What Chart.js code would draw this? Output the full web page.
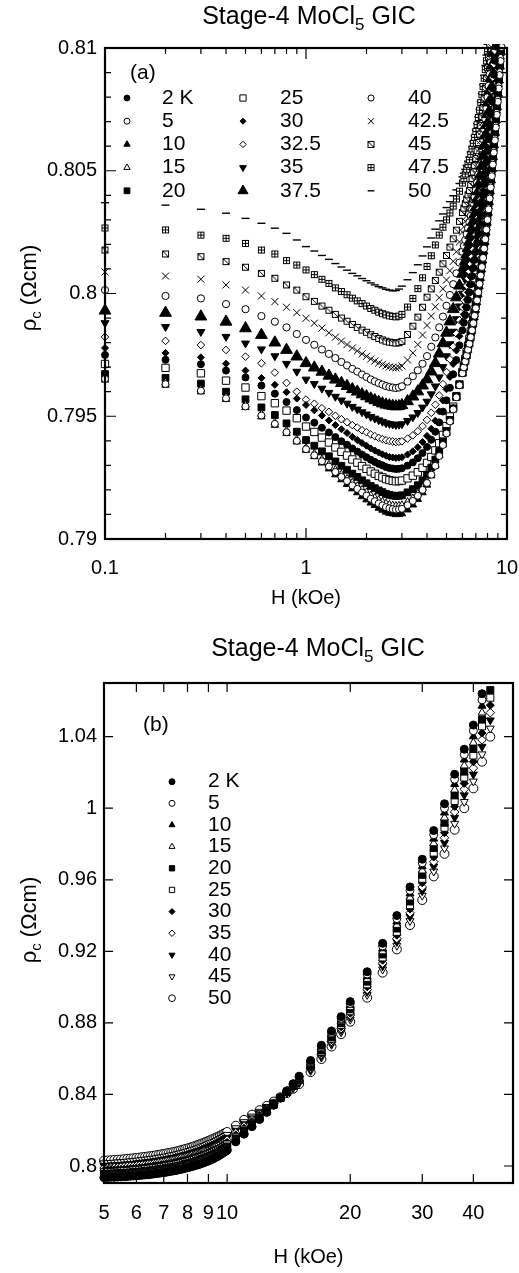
<!DOCTYPE html>
<html>
<head>
<meta charset="utf-8">
<script src="https://cdn.jsdelivr.net/npm/chart.js@4.4.1/dist/chart.umd.min.js"></script>
<style>
  body { margin: 0; background: #fff; }
  canvas { position: absolute; left: 0; }
</style>
</head>
<body>
<canvas id="chartA" width="519" height="620" style="top:0;width:519px;height:620px"></canvas>
<canvas id="chartB" width="519" height="653" style="top:620px;width:519px;height:653px"></canvas>
<script>
// ---- panel (a): rho_c vs H, 0.1 - 10 kOe ----
const topH = [0.1,0.2,0.3,0.4,0.5,0.6,0.7,0.8,0.9,1.0,
  1.1,1.2,1.3,1.4,1.5,1.6,1.7,1.8,1.9,2.0,2.1,2.2,2.3,2.4,2.5,2.6,2.7,2.8,2.9,3.0,
  3.2,3.4,3.6,3.8,4.0,4.2,4.4,4.6,4.8,5.0,5.2,5.4,5.6,5.8,6.0,
  6.1,6.2,6.3,6.4,6.5,6.6,6.7,6.8,6.9,7.0,7.1,7.2,7.3,7.4,7.5,7.6,7.7,7.8,7.9,8.0,
  8.1,8.2,8.3,8.4,8.5,8.6,8.7,8.8,8.9,9.0,9.1,9.2,9.3,9.4,9.5,9.6];
const topLabels = ['2 K','5','10','15','20','25','30','32.5','35','37.5','40','42.5','45','47.5','50'];

const top2K = [0.79750,0.79730,0.79712,0.79686,0.79658,0.79625,0.79592,0.79558,0.79525,0.79495,
  0.79474,0.79453,0.79434,0.79415,0.79398,0.79384,0.79369,0.79356,0.79344,0.79333,0.79323,0.79314,0.79306,0.79300,0.79293,0.79289,0.79287,0.79285,0.79286,0.79288,
  0.79299,0.79312,0.79329,0.79350,0.79375,0.79404,0.79437,0.79475,0.79519,0.79565,0.79616,0.79671,0.79729,0.79789,0.79850,
  0.79881,0.79912,0.79943,0.79974,0.80005,0.80038,0.80071,0.80104,0.80137,0.80170,0.80207,0.80244,0.80282,0.80321,0.80360,0.80402,0.80446,0.80490,0.80535,0.80580,
  0.80629,0.80679,0.80730,0.80782,0.80835,0.80891,0.80948,0.81006];
const top5K = [0.79652,0.79631,0.79604,0.79573,0.79540,0.79503,0.79469,0.79435,0.79400,0.79366,
  0.79341,0.79317,0.79295,0.79273,0.79253,0.79236,0.79218,0.79204,0.79189,0.79177,0.79164,0.79154,0.79145,0.79137,0.79130,0.79125,0.79122,0.79120,0.79121,0.79123,
  0.79138,0.79155,0.79176,0.79200,0.79228,0.79262,0.79298,0.79338,0.79383,0.79430,0.79479,0.79528,0.79577,0.79626,0.79675,
  0.79699,0.79723,0.79747,0.79771,0.79795,0.79822,0.79850,0.79879,0.79909,0.79940,0.79972,0.80005,0.80039,0.80073,0.80108,0.80145,0.80183,0.80221,0.80260,0.80300,
  0.80343,0.80387,0.80432,0.80478,0.80525,0.80574,0.80624,0.80676,0.80728,0.80781,0.80835,0.80890,0.80947,0.81004];
const top10K = [0.79648,0.79627,0.79600,0.79569,0.79536,0.79498,0.79464,0.79430,0.79396,0.79362,
  0.79336,0.79310,0.79286,0.79262,0.79242,0.79223,0.79205,0.79189,0.79173,0.79160,0.79147,0.79137,0.79126,0.79118,0.79110,0.79105,0.79103,0.79100,0.79101,0.79103,
  0.79119,0.79139,0.79162,0.79189,0.79220,0.79258,0.79298,0.79342,0.79388,0.79435,0.79483,0.79531,0.79579,0.79627,0.79675,
  0.79698,0.79721,0.79744,0.79768,0.79792,0.79818,0.79845,0.79873,0.79902,0.79932,0.79963,0.79995,0.80028,0.80062,0.80097,0.80133,0.80170,0.80208,0.80247,0.80287,
  0.80328,0.80371,0.80415,0.80460,0.80506,0.80554,0.80603,0.80653,0.80705,0.80758,0.80812,0.80867,0.80924,0.80982,0.81041];
const top15K = [0.79657,0.79637,0.79610,0.79579,0.79546,0.79509,0.79475,0.79441,0.79406,0.79372,
  0.79348,0.79325,0.79303,0.79282,0.79263,0.79246,0.79230,0.79216,0.79201,0.79190,0.79178,0.79168,0.79159,0.79152,0.79145,0.79140,0.79137,0.79135,0.79136,0.79138,
  0.79151,0.79166,0.79185,0.79208,0.79235,0.79267,0.79302,0.79340,0.79384,0.79430,0.79478,0.79526,0.79574,0.79623,0.79672,
  0.79697,0.79722,0.79747,0.79772,0.79797,0.79825,0.79854,0.79883,0.79913,0.79945,0.79978,0.80011,0.80045,0.80080,0.80115,0.80152,0.80190,0.80229,0.80268,0.80310,
  0.80353,0.80398,0.80444,0.80491,0.80538,0.80588,0.80639,0.80691,0.80744,0.80797,0.80852,0.80908,0.80965,0.81023];
const top20K = [0.79672,0.79656,0.79633,0.79600,0.79569,0.79536,0.79505,0.79471,0.79437,0.79403,
  0.79380,0.79357,0.79337,0.79316,0.79298,0.79282,0.79266,0.79253,0.79239,0.79227,0.79216,0.79207,0.79198,0.79191,0.79184,0.79180,0.79177,0.79175,0.79176,0.79178,
  0.79190,0.79203,0.79219,0.79239,0.79262,0.79291,0.79323,0.79358,0.79398,0.79440,0.79485,0.79532,0.79579,0.79627,0.79676,
  0.79702,0.79728,0.79754,0.79780,0.79806,0.79835,0.79864,0.79894,0.79924,0.79955,0.79989,0.80023,0.80057,0.80091,0.80125,0.80163,0.80202,0.80241,0.80280,0.80320,
  0.80365,0.80411,0.80457,0.80503,0.80550,0.80601,0.80652,0.80704,0.80757,0.80810,0.80867,0.80924,0.80982,0.81041];
const top25K = [0.79713,0.79697,0.79675,0.79645,0.79617,0.79582,0.79553,0.79523,0.79492,0.79458,
  0.79436,0.79413,0.79393,0.79373,0.79355,0.79340,0.79324,0.79311,0.79297,0.79286,0.79275,0.79266,0.79257,0.79251,0.79244,0.79240,0.79237,0.79235,0.79236,0.79238,
  0.79247,0.79258,0.79272,0.79290,0.79310,0.79334,0.79361,0.79390,0.79424,0.79460,0.79499,0.79539,0.79582,0.79630,0.79680,
  0.79707,0.79734,0.79761,0.79788,0.79815,0.79845,0.79875,0.79905,0.79935,0.79965,0.79999,0.80033,0.80067,0.80101,0.80135,0.80173,0.80212,0.80251,0.80290,0.80330,
  0.80375,0.80421,0.80467,0.80513,0.80560,0.80611,0.80662,0.80714,0.80767,0.80820,0.80877,0.80934,0.80992,0.81051];
const top30K = [0.79778,0.79758,0.79740,0.79714,0.79686,0.79656,0.79628,0.79598,0.79572,0.79546,
  0.79524,0.79503,0.79483,0.79464,0.79447,0.79432,0.79416,0.79403,0.79391,0.79380,0.79369,0.79360,0.79352,0.79345,0.79339,0.79334,0.79332,0.79330,0.79331,0.79333,
  0.79344,0.79357,0.79374,0.79395,0.79420,0.79449,0.79482,0.79520,0.79564,0.79610,0.79660,0.79713,0.79768,0.79826,0.79885,
  0.79915,0.79945,0.79975,0.80005,0.80035,0.80067,0.80099,0.80131,0.80163,0.80195,0.80231,0.80268,0.80305,0.80342,0.80380,0.80421,0.80463,0.80506,0.80550,0.80595,
  0.80643,0.80692,0.80742,0.80793,0.80845,0.80900,0.80956,0.81013];
const top32K = [0.79823,0.79807,0.79790,0.79770,0.79743,0.79716,0.79678,0.79636,0.79600,0.79568,
  0.79551,0.79533,0.79518,0.79502,0.79488,0.79476,0.79464,0.79454,0.79443,0.79435,0.79426,0.79419,0.79412,0.79407,0.79402,0.79399,0.79397,0.79395,0.79396,0.79398,
  0.79409,0.79422,0.79439,0.79460,0.79485,0.79514,0.79547,0.79585,0.79631,0.79680,0.79732,0.79784,0.79837,0.79891,0.79945,
  0.79974,0.80003,0.80032,0.80061,0.80090,0.80120,0.80150,0.80180,0.80210,0.80240,0.80275,0.80310,0.80346,0.80383,0.80420,0.80460,0.80501,0.80543,0.80586,0.80630,
  0.80677,0.80726,0.80776,0.80827,0.80880,0.80934,0.80989,0.81045];
const top35K = [0.79880,0.79864,0.79844,0.79824,0.79797,0.79773,0.79745,0.79714,0.79682,0.79650,
  0.79632,0.79613,0.79596,0.79580,0.79565,0.79552,0.79539,0.79528,0.79517,0.79508,0.79498,0.79491,0.79484,0.79478,0.79472,0.79469,0.79467,0.79465,0.79466,0.79468,
  0.79481,0.79496,0.79514,0.79536,0.79560,0.79590,0.79622,0.79659,0.79701,0.79745,0.79794,0.79845,0.79896,0.79948,0.80000,
  0.80028,0.80056,0.80084,0.80112,0.80140,0.80170,0.80200,0.80230,0.80260,0.80290,0.80324,0.80358,0.80393,0.80429,0.80465,0.80504,0.80544,0.80585,0.80627,0.80670,
  0.80717,0.80765,0.80815,0.80867,0.80920,0.80975,0.81031];
const top37K = [0.79930,0.79921,0.79906,0.79885,0.79858,0.79831,0.79800,0.79770,0.79743,0.79716,
  0.79698,0.79681,0.79665,0.79649,0.79635,0.79623,0.79610,0.79600,0.79589,0.79581,0.79572,0.79565,0.79558,0.79552,0.79547,0.79544,0.79542,0.79540,0.79541,0.79545,
  0.79561,0.79580,0.79601,0.79625,0.79650,0.79682,0.79716,0.79755,0.79797,0.79840,0.79886,0.79936,0.79984,0.80032,0.80080,
  0.80106,0.80132,0.80158,0.80184,0.80210,0.80238,0.80266,0.80294,0.80322,0.80350,0.80383,0.80416,0.80450,0.80485,0.80520,0.80560,0.80601,0.80643,0.80686,0.80730,
  0.80778,0.80827,0.80877,0.80928,0.80980,0.81033];
const top40K = [0.80014,0.79990,0.79980,0.79957,0.79936,0.79908,0.79885,0.79862,0.79835,0.79811,
  0.79791,0.79772,0.79754,0.79737,0.79721,0.79707,0.79693,0.79682,0.79670,0.79660,0.79650,0.79642,0.79635,0.79629,0.79623,0.79619,0.79617,0.79615,0.79617,0.79622,
  0.79641,0.79663,0.79687,0.79714,0.79745,0.79783,0.79821,0.79862,0.79906,0.79950,0.79994,0.80038,0.80082,0.80126,0.80170,
  0.80194,0.80218,0.80242,0.80266,0.80290,0.80316,0.80342,0.80368,0.80394,0.80420,0.80452,0.80485,0.80519,0.80554,0.80590,0.80629,0.80670,0.80712,0.80755,0.80800,
  0.80846,0.80893,0.80941,0.80990,0.81040];
const top42K = [0.80088,0.80071,0.80058,0.80035,0.80014,0.79990,0.79967,0.79944,0.79922,0.79899,
  0.79879,0.79859,0.79840,0.79822,0.79806,0.79792,0.79778,0.79766,0.79754,0.79744,0.79733,0.79725,0.79717,0.79711,0.79705,0.79701,0.79699,0.79697,0.79699,0.79705,
  0.79729,0.79758,0.79792,0.79831,0.79870,0.79908,0.79946,0.79983,0.80019,0.80055,0.80093,0.80131,0.80170,0.80210,0.80250,
  0.80272,0.80294,0.80316,0.80338,0.80360,0.80385,0.80411,0.80437,0.80463,0.80490,0.80522,0.80555,0.80589,0.80624,0.80660,0.80698,0.80737,0.80777,0.80818,0.80860,
  0.80904,0.80949,0.80995,0.81042];
const top45K = [0.80177,0.80161,0.80150,0.80130,0.80107,0.80082,0.80062,0.80035,0.80014,0.79987,
  0.79968,0.79949,0.79932,0.79915,0.79900,0.79887,0.79874,0.79862,0.79851,0.79842,0.79832,0.79825,0.79817,0.79811,0.79806,0.79802,0.79800,0.79798,0.79800,0.79805,
  0.79833,0.79867,0.79904,0.79944,0.79985,0.80019,0.80053,0.80087,0.80121,0.80155,0.80189,0.80223,0.80258,0.80294,0.80330,
  0.80348,0.80366,0.80384,0.80402,0.80420,0.80444,0.80469,0.80495,0.80522,0.80550,0.80582,0.80615,0.80649,0.80684,0.80720,0.80758,0.80796,0.80836,0.80877,0.80920,
  0.80964,0.81010];
const top47K = [0.80267,0.80259,0.80238,0.80225,0.80204,0.80177,0.80161,0.80134,0.80116,0.80096,
  0.80077,0.80058,0.80041,0.80023,0.80008,0.79995,0.79981,0.79970,0.79959,0.79949,0.79939,0.79932,0.79924,0.79918,0.79913,0.79909,0.79907,0.79905,0.79908,0.79915,
  0.79945,0.79980,0.80020,0.80064,0.80110,0.80154,0.80198,0.80238,0.80270,0.80300,0.80328,0.80356,0.80385,0.80417,0.80450,
  0.80468,0.80487,0.80506,0.80525,0.80545,0.80567,0.80589,0.80612,0.80636,0.80660,0.80688,0.80717,0.80747,0.80778,0.80810,0.80843,0.80877,0.80912,0.80948,0.80985,
  0.81025];
const top50K = [0.80370,0.80360,0.80343,0.80327,0.80306,0.80286,0.80266,0.80245,0.80218,0.80191,
  0.80173,0.80155,0.80139,0.80122,0.80108,0.80095,0.80082,0.80072,0.80061,0.80052,0.80043,0.80035,0.80028,0.80023,0.80017,0.80014,0.80011,0.80012,0.80018,0.80030,
  0.80056,0.80085,0.80117,0.80153,0.80190,0.80226,0.80262,0.80296,0.80324,0.80350,0.80374,0.80398,0.80422,0.80448,0.80475,
  0.80490,0.80506,0.80522,0.80539,0.80556,0.80576,0.80597,0.80619,0.80642,0.80665,0.80692,0.80720,0.80750,0.80782,0.80815,0.80851,0.80889,0.80929,0.80971,0.81015];

const topXTicks = [0.1, 1, 10];
const topXTickLabels = ['0.1', '1', '10'];
const topXMinor = [0.2,0.3,0.4,0.5,0.6,0.7,0.8,0.9,2,3,4,5,6,7,8,9];
const topYTicks = [0.79, 0.795, 0.8, 0.805, 0.81];
const topYTickLabels = ['0.79', '0.795', '0.8', '0.805', '0.81'];
const topYMinor = [0.791,0.792,0.793,0.794,0.796,0.797,0.798,0.799,0.801,0.802,0.803,0.804,0.806,0.807,0.808,0.809];

// ---- panel (b): rho_c vs H, 5 - 45 kOe ----
const botH = [5.0,5.1,5.2,5.3,5.4,5.5,5.6,5.7,5.8,5.9,6.0,6.1,6.2,6.3,6.4,6.5,6.6,6.7,6.8,6.9,
  7.0,7.1,7.2,7.3,7.4,7.5,7.6,7.7,7.8,7.9,8.0,8.1,8.2,8.3,8.4,8.5,8.6,8.7,8.8,8.9,
  9.0,9.1,9.2,9.3,9.4,9.5,9.6,9.7,9.8,9.9,10.0,
  10.5,11,11.5,12,12.5,13,13.5,14,14.5,15,16,17,18,19,20,22,24,26,28,30,32,34,36,38,40,42,44];
const botLabels = ['2 K','5','10','15','20','25','30','35','40','45','50'];

const bot2K = [.7935,.7936,.7937,.7937,.7938,.7939,.7940,.7941,.7943,.7944,.7945,.7947,.7948,.7950,.7951,.7953,.7955,.7957,.7959,.7961,
  .7963,.7965,.7968,.7970,.7973,.7975,.7978,.7981,.7984,.7987,.7990,.7993,.7997,.8000,.8004,.8007,.8011,.8015,.8020,.8024,
  .8028,.8033,.8038,.8044,.8049,.8054,.8061,.8068,.8074,.8081,.8088,
  .8135,.8178,.8220,.8260,.8300,.8340,.8380,.8420,.8460,.8502,.8590,.8675,.8755,.8835,.8919,.9086,.9245,.9400,.9560,.9715,.9875,1.0025,1.0190,1.0330,1.0465,1.0640];
const bot5K = [.7938,.7939,.7940,.7940,.7941,.7942,.7943,.7944,.7946,.7947,.7948,.7950,.7951,.7953,.7954,.7956,.7958,.7960,.7962,.7964,
  .7966,.7969,.7971,.7973,.7976,.7978,.7981,.7984,.7987,.7990,.7993,.7997,.8000,.8003,.8007,.8010,.8014,.8019,.8023,.8027,
  .8031,.8037,.8042,.8047,.8052,.8057,.8064,.8071,.8078,.8084,.8091,
  .8138,.8180,.8222,.8262,.8301,.8341,.8380,.8419,.8458,.8498,.8584,.8668,.8747,.8826,.8909,.9073,.9230,.9383,.9541,.9695,.9852,1.0000,1.0162,1.0300,1.0433,1.0606];
const bot10K = [.7942,.7943,.7943,.7944,.7945,.7946,.7947,.7948,.7950,.7951,.7952,.7954,.7955,.7957,.7959,.7960,.7962,.7964,.7966,.7968,
  .7970,.7973,.7975,.7978,.7980,.7983,.7986,.7989,.7992,.7995,.7998,.8001,.8004,.8008,.8011,.8015,.8019,.8023,.8027,.8032,
  .8036,.8041,.8046,.8051,.8056,.8062,.8068,.8075,.8082,.8088,.8095,
  .8141,.8184,.8225,.8264,.8303,.8341,.8380,.8418,.8455,.8494,.8578,.8661,.8739,.8817,.8899,.9060,.9216,.9366,.9522,.9674,.9829,.9975,1.0134,1.0271,1.0401,1.0572];
const bot15K = [.7947,.7948,.7949,.7950,.7951,.7952,.7953,.7954,.7955,.7957,.7958,.7960,.7961,.7963,.7965,.7966,.7968,.7970,.7972,.7974,
  .7976,.7979,.7981,.7984,.7986,.7989,.7992,.7995,.7998,.8001,.8004,.8007,.8011,.8014,.8018,.8021,.8026,.8030,.8034,.8038,
  .8043,.8048,.8053,.8058,.8063,.8068,.8075,.8081,.8088,.8095,.8101,
  .8147,.8188,.8229,.8267,.8305,.8343,.8381,.8417,.8452,.8490,.8572,.8653,.8731,.8808,.8888,.9045,.9199,.9347,.9500,.9651,.9803,.9947,1.0103,1.0238,1.0366,1.0534];
const bot20K = [.7955,.7956,.7957,.7958,.7959,.7960,.7961,.7962,.7963,.7965,.7966,.7968,.7969,.7971,.7973,.7974,.7976,.7979,.7981,.7983,
  .7985,.7987,.7990,.7992,.7995,.7997,.8000,.8003,.8007,.8010,.8013,.8016,.8020,.8023,.8027,.8030,.8034,.8039,.8043,.8047,
  .8051,.8056,.8061,.8066,.8071,.8076,.8083,.8090,.8096,.8103,.8109,
  .8154,.8195,.8234,.8271,.8308,.8344,.8381,.8415,.8449,.8485,.8565,.8646,.8722,.8798,.8876,.9031,.9183,.9328,.9479,.9628,.9778,.9919,1.0072,1.0205,1.0331,1.0496,1.0660];
const bot25K = [.7964,.7965,.7966,.7967,.7968,.7969,.7971,.7972,.7973,.7975,.7976,.7978,.7979,.7981,.7983,.7985,.7987,.7989,.7991,.7993,
  .7995,.7998,.8000,.8003,.8005,.8008,.8011,.8014,.8017,.8020,.8023,.8027,.8030,.8034,.8038,.8041,.8045,.8050,.8054,.8058,
  .8063,.8068,.8072,.8077,.8082,.8087,.8094,.8100,.8107,.8113,.8120,
  .8163,.8203,.8241,.8276,.8311,.8346,.8381,.8414,.8447,.8481,.8559,.8638,.8713,.8788,.8865,.9016,.9166,.9309,.9458,.9606,.9752,.9891,1.0041,1.0172,1.0295,1.0458,1.0618];
const bot30K = [.7976,.7977,.7978,.7979,.7980,.7981,.7982,.7984,.7985,.7987,.7988,.7990,.7991,.7993,.7995,.7997,.7999,.8001,.8003,.8005,
  .8008,.8010,.8013,.8015,.8018,.8020,.8024,.8027,.8030,.8033,.8036,.8040,.8044,.8047,.8051,.8054,.8059,.8063,.8067,.8072,
  .8076,.8081,.8086,.8090,.8095,.8100,.8106,.8113,.8119,.8125,.8132,
  .8174,.8212,.8249,.8282,.8316,.8349,.8382,.8413,.8444,.8477,.8552,.8630,.8705,.8778,.8854,.9002,.9150,.9290,.9437,.9583,.9727,.9863,1.0010,1.0139,1.0260,1.0420,1.0576];
const bot35K = [.7988,.7989,.7990,.7991,.7992,.7994,.7995,.7997,.7998,.7999,.8001,.8003,.8005,.8006,.8008,.8010,.8012,.8014,.8017,.8019,
  .8021,.8024,.8026,.8029,.8032,.8034,.8038,.8041,.8044,.8047,.8050,.8054,.8058,.8061,.8065,.8069,.8073,.8077,.8082,.8086,
  .8091,.8095,.8100,.8105,.8109,.8114,.8120,.8126,.8133,.8139,.8145,
  .8185,.8223,.8258,.8289,.8320,.8351,.8382,.8412,.8441,.8472,.8546,.8623,.8696,.8768,.8843,.8987,.9134,.9272,.9415,.9560,.9701,.9835,.9979,1.0106,1.0224,1.0382,1.0534];
const bot40K = [.8001,.8003,.8004,.8005,.8006,.8007,.8009,.8010,.8012,.8013,.8015,.8017,.8019,.8021,.8022,.8024,.8027,.8029,.8031,.8033,
  .8036,.8038,.8041,.8044,.8046,.8049,.8052,.8056,.8059,.8062,.8066,.8069,.8073,.8077,.8080,.8084,.8088,.8093,.8097,.8102,
  .8106,.8111,.8115,.8120,.8124,.8129,.8135,.8141,.8147,.8153,.8159,
  .8198,.8234,.8267,.8296,.8325,.8354,.8383,.8411,.8438,.8468,.8539,.8615,.8687,.8759,.8832,.8973,.9117,.9253,.9394,.9537,.9675,.9807,.9948,1.0073,1.0189,1.0344,1.0492];
const bot45K = [.8016,.8017,.8018,.8019,.8021,.8022,.8023,.8025,.8027,.8028,.8030,.8032,.8034,.8036,.8038,.8040,.8042,.8044,.8047,.8049,
  .8051,.8054,.8057,.8060,.8062,.8065,.8068,.8072,.8075,.8078,.8082,.8085,.8089,.8093,.8097,.8100,.8105,.8110,.8114,.8119,
  .8123,.8128,.8132,.8136,.8141,.8145,.8151,.8157,.8163,.8169,.8175,
  .8212,.8246,.8277,.8304,.8331,.8357,.8383,.8409,.8435,.8463,.8532,.8607,.8678,.8748,.8819,.8957,.9099,.9232,.9370,.9512,.9647,.9776,.9914,1.0036,1.0150,1.0302,1.0446];
const bot50K = [.8030,.8031,.8032,.8034,.8035,.8036,.8038,.8040,.8041,.8043,.8045,.8047,.8049,.8051,.8053,.8055,.8057,.8060,.8062,.8065,
  .8067,.8070,.8073,.8075,.8078,.8081,.8084,.8088,.8091,.8095,.8098,.8102,.8106,.8110,.8114,.8118,.8122,.8127,.8131,.8136,
  .8140,.8145,.8150,.8154,.8159,.8164,.8169,.8174,.8180,.8185,.8190,
  .8225,.8258,.8287,.8312,.8336,.8360,.8384,.8408,.8432,.8458,.8525,.8598,.8668,.8737,.8807,.8941,.9081,.9211,.9347,.9487,.9619,.9745,.9880,1.0000,1.0111,1.0260,1.0400];

const botXTicks = [5, 6, 7, 8, 9, 10, 20, 30, 40];
const botXTickLabels = ['5', '6', '7', '8', '9', '10', '20', '30', '40'];
const botYTicks = [0.8, 0.84, 0.88, 0.92, 0.96, 1, 1.04];
const botYTickLabels = ['0.8', '0.84', '0.88', '0.92', '0.96', '1', '1.04'];

// ---------------------------------------------------------------
const FONT = '"Liberation Sans", Arial, Helvetica, sans-serif';
Chart.defaults.font.family = FONT;
Chart.defaults.color = '#000';

// square markers with a diagonal / a plus inside
function boxMarker(kind) {
  const c = document.createElement('canvas');
  c.width = 9; c.height = 9;
  const g = c.getContext('2d');
  g.fillStyle = '#fff';
  g.fillRect(1, 1, 7, 7);
  g.strokeStyle = '#000';
  g.lineWidth = 1;
  g.strokeRect(1.5, 1.5, 6, 6);
  g.beginPath();
  if (kind === 'diag') {
    g.moveTo(1.5, 1.5); g.lineTo(7.5, 7.5);
  } else {
    g.moveTo(4.5, 1.5); g.lineTo(4.5, 7.5);
    g.moveTo(1.5, 4.5); g.lineTo(7.5, 4.5);
  }
  g.stroke();
  return c;
}
const MARK_DIAG = boxMarker('diag');
const MARK_PLUS = boxMarker('plus');

const topStyles = [
  { ps: 'circle', r: 3.5, fill: true },
  { ps: 'circle', r: 3.5, fill: false },
  { ps: 'triangle', r: 4.3, fill: true },
  { ps: 'triangle', r: 4.3, fill: false },
  { ps: 'rect', r: 4.8, fill: true },
  { ps: 'rect', r: 5.2, fill: false },
  { ps: 'rectRot', r: 3.5, fill: true },
  { ps: 'rectRot', r: 3.8, fill: false },
  { ps: 'triangle', r: 4.6, rot: 180, fill: true },
  { ps: 'triangle', r: 6.8, fill: true },
  { ps: 'circle', r: 3.6, fill: false },
  { ps: 'crossRot', r: 5, fill: false },
  { ps: MARK_DIAG, r: 4, fill: false },
  { ps: MARK_PLUS, r: 4, fill: false },
  { ps: 'line', r: 4, fill: false, bw: 1.4 }
];
const botStyles = [
  { ps: 'circle', r: 4, fill: true },
  { ps: 'circle', r: 4, fill: false },
  { ps: 'triangle', r: 4.6, fill: true },
  { ps: 'triangle', r: 4.6, fill: false },
  { ps: 'rect', r: 5, fill: true },
  { ps: 'rect', r: 5, fill: false },
  { ps: 'rectRot', r: 4, fill: true },
  { ps: 'rectRot', r: 4.3, fill: false },
  { ps: 'triangle', r: 4.6, rot: 180, fill: true },
  { ps: 'triangle', r: 4.6, rot: 180, fill: false },
  { ps: 'circle', r: 4.5, fill: false }
];

function buildSets(H, series, labels, styles, clip) {
  return series.map((vals, i) => {
    const s = styles[i];
    return {
      label: labels[i],
      data: vals.map((v, k) => ({ x: H[k], y: v })),
      showLine: false,
      pointStyle: s.ps,
      pointRadius: s.r,
      pointHoverRadius: s.r,
      pointRotation: s.rot || 0,
      pointBackgroundColor: s.fill ? '#000' : '#fff',
      pointBorderColor: '#000',
      pointBorderWidth: s.bw || 1,
      clip: clip
    };
  });
}

// text made of normal and subscript pieces, centred on x
function drawParts(ctx, parts, x, y, size, subSize, drop) {
  let w = 0;
  parts.forEach(p => {
    ctx.font = (p[1] ? subSize : size) + 'px ' + FONT;
    p.w = ctx.measureText(p[0]).width;
    w += p.w;
  });
  let cx = x - w / 2;
  ctx.textAlign = 'left';
  ctx.textBaseline = 'alphabetic';
  parts.forEach(p => {
    ctx.font = (p[1] ? subSize : size) + 'px ' + FONT;
    ctx.fillText(p[0], cx, y + (p[1] ? drop : 0));
    cx += p.w;
  });
}

function makeDecor(p) {
  return {
    id: 'decor',
    afterDatasetsDraw(chart) {
      const { ctx, chartArea: a, scales: { x, y } } = chart;
      ctx.save();
      ctx.strokeStyle = '#000';
      ctx.lineWidth = 1.2;
      ctx.beginPath();
      const xt = (v, len) => {
        const q = x.getPixelForValue(v);
        ctx.moveTo(q, a.bottom); ctx.lineTo(q, a.bottom - len);
        ctx.moveTo(q, a.top); ctx.lineTo(q, a.top + len);
      };
      const yt = (v, len) => {
        const q = y.getPixelForValue(v);
        ctx.moveTo(a.left, q); ctx.lineTo(a.left + len, q);
        ctx.moveTo(a.right, q); ctx.lineTo(a.right - len, q);
      };
      p.xTicks.forEach(v => xt(v, p.tickMajor));
      p.xMinor.forEach(v => xt(v, p.tickMinor));
      p.yTicks.forEach(v => yt(v, p.tickMajor));
      p.yMinor.forEach(v => yt(v, p.tickMinor));
      ctx.stroke();
      ctx.lineWidth = 2.2;
      ctx.strokeRect(a.left, a.top, a.right - a.left, a.bottom - a.top);
      ctx.restore();
    },
    afterDraw(chart) {
      const ctx = chart.ctx;
      ctx.save();
      ctx.fillStyle = '#000';
      // title
      drawParts(ctx, [['Stage-4 MoCl', false], ['5', true], [' GIC', false]],
        p.titleX, p.titleY, 25, 17, 6);
      // y axis title
      ctx.save();
      ctx.translate(p.yTitleX, p.yTitleY);
      ctx.rotate(-Math.PI / 2);
      drawParts(ctx, [['\u03C1', false], ['c', true], [' (\u03A9cm)', false]], 0, 0, 22, 15, 5);
      ctx.restore();
      // panel tag
      ctx.font = '21px ' + FONT;
      ctx.textAlign = 'left';
      ctx.textBaseline = 'middle';
      ctx.fillText(p.tag, p.tagX, p.tagY);
      // legend
      const L = p.legend;
      p.labels.forEach((lab, i) => {
        const col = Math.floor(i / L.perCol), row = i % L.perCol;
        const yy = L.y0 + row * L.dy;
        const s = p.styles[i];
        ctx.fillStyle = s.fill ? '#000' : '#fff';
        ctx.strokeStyle = '#000';
        ctx.lineWidth = s.bw || 1;
        Chart.helpers.drawPoint(ctx, {
          pointStyle: s.ps, rotation: s.rot || 0,
          radius: s.r * L.scale, borderWidth: s.bw || 1
        }, L.markX[col], yy);
        ctx.fillStyle = '#000';
        ctx.font = '21px ' + FONT;
        ctx.textAlign = 'left';
        ctx.textBaseline = 'middle';
        ctx.fillText(lab, L.textX[col], yy);
      });
      ctx.restore();
    }
  };
}

function makeChart(id, p) {
  return new Chart(document.getElementById(id), {
    type: 'scatter',
    data: { datasets: buildSets(p.H, p.series, p.labels, p.styles, p.clip) },
    options: {
      responsive: false,
      animation: false,
      devicePixelRatio: 1,
      events: [],
      layout: { padding: p.pad },
      plugins: { legend: { display: false }, tooltip: { enabled: false } },
      scales: {
        x: {
          type: 'logarithmic', min: p.xMin, max: p.xMax,
          afterBuildTicks: s => { s.ticks = p.xTicks.map(v => ({ value: v })); },
          afterFit: s => { s.height = p.xAxisH; s.paddingLeft = 0; s.paddingRight = 0; },
          ticks: {
            autoSkip: false, maxRotation: 0, minRotation: 0, padding: p.xPad,
            font: { size: 20 }, color: '#000',
            callback: (v, i) => p.xLabels[i]
          },
          grid: { display: false, drawTicks: false },
          border: { display: false },
          title: {
            display: true, text: 'H (kOe)', color: '#000', font: { size: 20 },
            padding: { top: 0, bottom: p.xTitlePad }
          }
        },
        y: {
          type: 'linear', min: p.yMin, max: p.yMax,
          afterBuildTicks: s => { s.ticks = p.yTicks.map(v => ({ value: v })); },
          afterFit: s => { s.width = p.yAxisW; s.paddingTop = 0; s.paddingBottom = 0; },
          ticks: {
            autoSkip: false, padding: p.yPad, font: { size: 20 }, color: '#000',
            callback: (v, i) => p.yLabels[i]
          },
          grid: { display: false, drawTicks: false },
          border: { display: false }
        }
      }
    },
    plugins: [makeDecor(p)]
  });
}

makeChart('chartA', {
  H: topH,
  series: [top2K, top5K, top10K, top15K, top20K, top25K, top30K, top32K,
           top35K, top37K, top40K, top42K, top45K, top47K, top50K],
  labels: topLabels, styles: topStyles,
  clip: { left: 8, top: 4, right: 0, bottom: 0 },
  pad: { left: 0, right: 12, top: 48, bottom: 0 },
  xMin: 0.1, xMax: 10, xTicks: topXTicks, xLabels: topXTickLabels, xMinor: topXMinor,
  yMin: 0.79, yMax: 0.81, yTicks: topYTicks, yLabels: topYTickLabels, yMinor: topYMinor,
  xAxisH: 81, yAxisW: 105, xPad: 17, yPad: 8, xTitlePad: 10,
  tickMajor: 11, tickMinor: 6,
  titleX: 309, titleY: 24,
  yTitleX: 36, yTitleY: 288,
  tag: '(a)', tagX: 130, tagY: 73,
  legend: { perCol: 5, y0: 98, dy: 23.2, markX: [127, 243, 371], textX: [162, 280, 408], scale: 0.85 }
});

makeChart('chartB', {
  H: botH,
  series: [bot2K, bot5K, bot10K, bot15K, bot20K, bot25K, bot30K, bot35K, bot40K, bot45K, bot50K],
  labels: botLabels, styles: botStyles,
  clip: { left: 6, top: 0, right: 0, bottom: 0 },
  pad: { left: 0, right: 6, top: 63, bottom: 0 },
  xMin: 5, xMax: 50, xTicks: botXTicks, xLabels: botXTickLabels, xMinor: [],
  yMin: 0.7905, yMax: 1.07, yTicks: botYTicks, yLabels: botYTickLabels, yMinor: [],
  xAxisH: 90, yAxisW: 104, xPad: 18, yPad: 7, xTitlePad: 4,
  tickMajor: 9, tickMinor: 5,
  titleX: 318, titleY: 36,
  yTitleX: 36, yTitleY: 300,
  tag: '(b)', tagX: 143, tagY: 105,
  legend: { perCol: 11, y0: 161.7, dy: 21.65, markX: [172], textX: [208], scale: 0.75 }
});
</script>
</body>
</html>
